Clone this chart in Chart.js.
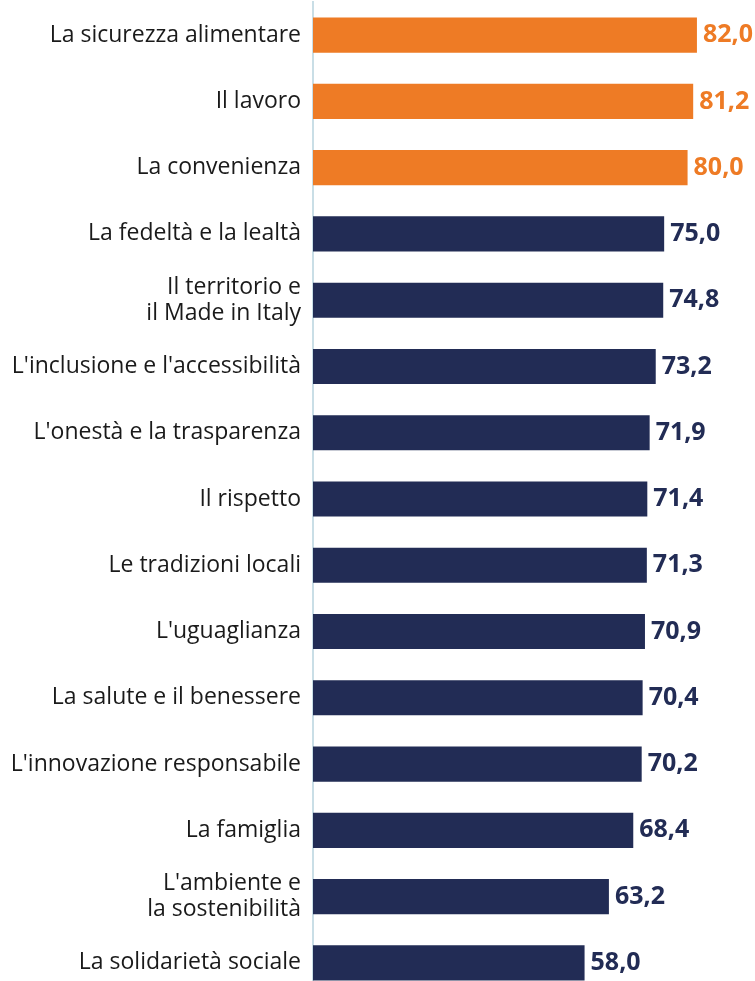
<!DOCTYPE html>
<html>
<head>
<meta charset="utf-8">
<script src="https://cdn.jsdelivr.net/npm/chart.js@4/dist/chart.umd.min.js"></script>
<style>
  html, body { margin: 0; padding: 0; background: #fff; overflow: hidden; }
  #wrap { width: 755px; height: 996px; }
</style>
</head>
<body>
<div id="wrap"><canvas id="valoriChart"></canvas></div>
<script>
// ── Dati ────────────────────────────────────────────────────────────────────
const categorie = [
    'La sicurezza alimentare',
    'Il lavoro',
    'La convenienza',
    'La fedeltà e la lealtà',
    ['Il territorio e', 'il Made in Italy'],
    "L'inclusione e l'accessibilità",
    "L'onestà e la trasparenza",
    'Il rispetto',
    'Le tradizioni locali',
    "L'uguaglianza",
    'La salute e il benessere',
    "L'innovazione responsabile",
    'La famiglia',
    ["L'ambiente e", 'la sostenibilità'],
    'La solidarietà sociale'
];
const valori = [82.0, 81.2, 80.0, 75.0, 74.8, 73.2, 71.9, 71.4, 71.3, 70.9, 70.4, 70.2, 68.4, 63.2, 58.0];
const primiEvidenziati = 3;

const ARANCIO = '#ee7b25';
const BLU = '#222c55';

// ── Etichette valori a fine barra ───────────────────────────────────────────
const etichetteValori = {
    id: 'etichetteValori',
    afterDatasetsDraw(chart) {
        const { ctx } = chart;
        const meta = chart.getDatasetMeta(0);
        ctx.save();
        ctx.font = 'bold 25px "Open Sans"';
        ctx.textBaseline = 'middle';
        ctx.textAlign = 'left';
        meta.data.forEach((bar, i) => {
            ctx.fillStyle = i < primiEvidenziati ? ARANCIO : BLU;
            const testo = valori[i].toFixed(1).replace('.', ',');
            ctx.fillText(testo, bar.x + 6, bar.y);
        });
        ctx.restore();
    }
};

new Chart(document.getElementById('valoriChart'), {
    type: 'bar',
    data: {
        labels: categorie,
        datasets: [{
            data: valori,
            backgroundColor: (c) => c.dataIndex < primiEvidenziati ? ARANCIO : BLU,
            barPercentage: 0.53,
            categoryPercentage: 1,
        }]
    },
    options: {
        indexAxis: 'y',
        responsive: true,
        maintainAspectRatio: false,
        animation: false,
        layout: { padding: { top: 2, right: 0, bottom: 0, left: 0 } },
        plugins: {
            legend: { display: false },
            tooltip: { enabled: false }
        },
        scales: {
            x: {
                display: false,
                min: 0,
                max: 94.4
            },
            y: {
                grid: { display: false, drawTicks: false },
                border: { display: true, color: '#c9dee6', width: 2 },
                ticks: {
                    color: '#1a1a1a',
                    padding: 12,
                    font: { family: 'Open Sans', size: 23, lineHeight: 1.13 }
                },
                afterFit(scale) {
                    scale.width = 313;
                    scale.paddingTop = 0;
                    scale.paddingBottom = 0;
                }
            }
        }
    },
    plugins: [etichetteValori]
});
</script>
</body>
</html>
